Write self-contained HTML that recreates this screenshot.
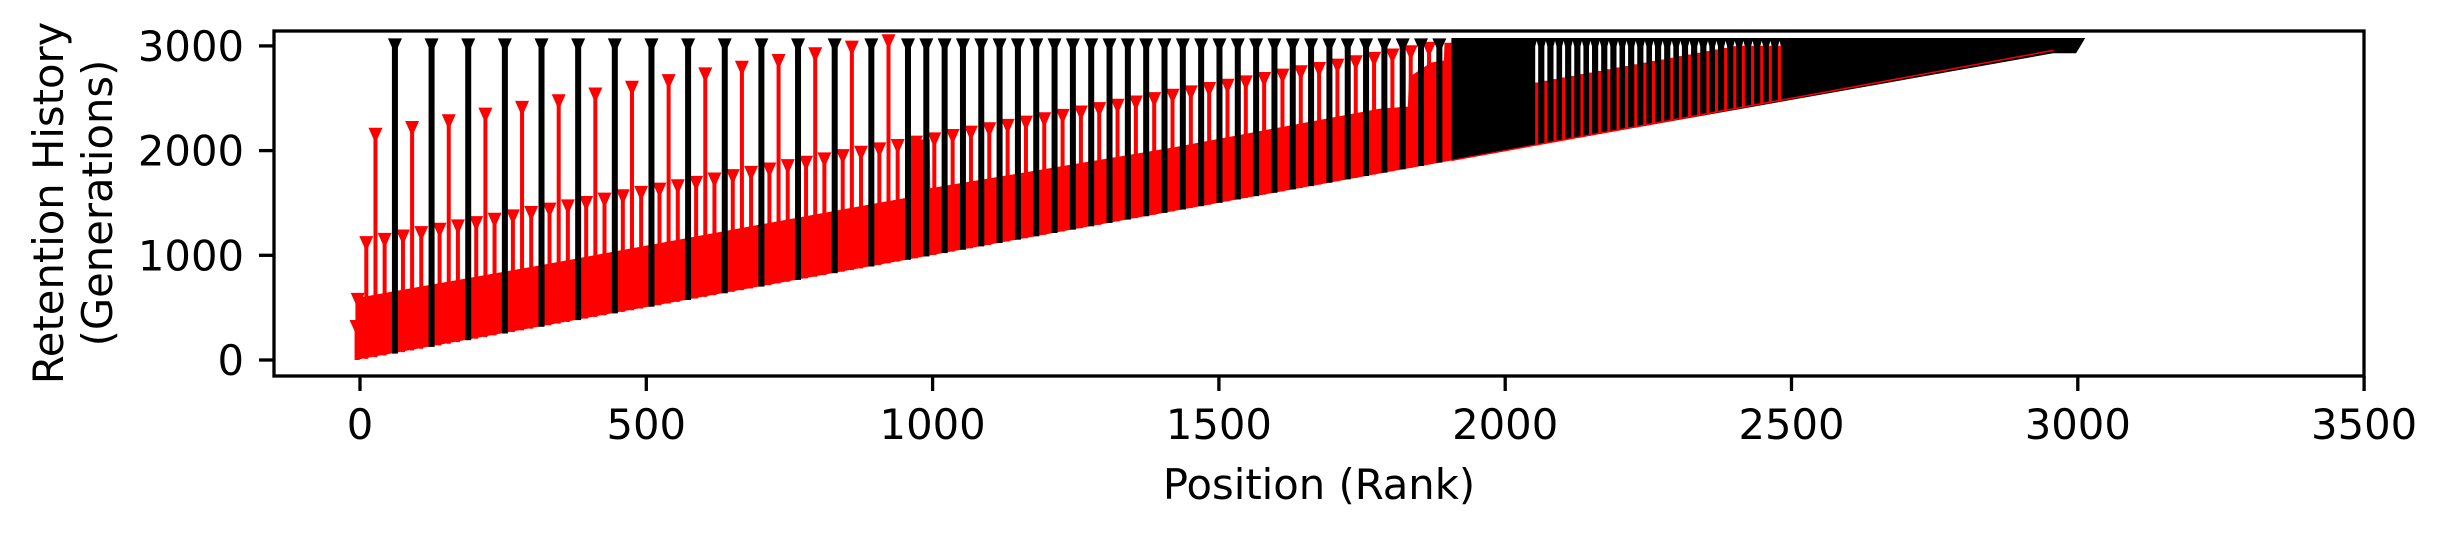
<!DOCTYPE html>
<html><head><meta charset="utf-8"><style>
html,body{margin:0;padding:0;background:#fff;}
svg{display:block;font-family:"DejaVu Sans","Liberation Sans",sans-serif;}
</style></head><body>
<svg id="chart" width="2448" height="536" viewBox="0 0 2448 536" xmlns="http://www.w3.org/2000/svg">
<g id="plot"></g>
<g id="axes"></g>
<text x="1319" y="499" font-size="41.7" text-anchor="middle">Position (Rank)</text>
<text transform="translate(63,203) rotate(-90)" font-size="41.7" text-anchor="middle">Retention History</text>
<text transform="translate(112,203) rotate(-90)" font-size="41.7" text-anchor="middle">(Generations)</text>
</svg>
<script>
const xTicks = [0,500,1000,1500,2000,2500,3000,3500];
const yTicks = [0,1000,2000,3000];
const blackX = [61,125,189,253,317,381,445,509,573,637,701,765,829,893,957,989,1021,1053,1085,1117,1149,1181,1213,1245,1277,1309,1341,1373,1405,1437,1469,1501,1533,1565,1597,1629,1661,1693,1725,1757,1789,1821,1853,1885];
const blackTop = [3000,3000,3000,3000,3000,3000,3000,3000,3000,3000,3000,3000,3000,3000,3000,3000,3000,3000,3000,3000,3000,3000,3000,3000,3000,3000,3000,3000,3000,3000,3000,3000,3000,3000,3000,3000,3000,3000,3000,3000,3000,3000,3000,3000];
const tallRedX = [27,91,155,219,283,347,411,475,539,603,667,731,795,859,923];
const tallRedTop = [2147,2211,2275,2339,2403,2467,2531,2595,2659,2723,2787,2851,2915,2979,3040];
const midRedX = [11,43,75,107,139,171,203,235,267,299,331,363,395,427,459,491,523,555,587,619,651,683,715,747,779,811,843,875,907,939,971,1003,1035,1067,1099,1131,1163,1195,1227,1259,1291,1323,1355,1387,1419,1451,1483,1515,1547,1579,1611,1643,1675,1707,1739,1771,1803,1835,1867];
const midRedTop = [1111,1143,1175,1207,1239,1271,1303,1335,1367,1399,1431,1463,1495,1527,1559,1591,1623,1655,1687,1719,1751,1783,1815,1847,1879,1911,1943,1975,2007,2039,2071,2103,2135,2167,2199,2231,2263,2295,2327,2359,2391,2423,2455,2487,2519,2551,2583,2615,2647,2679,2711,2743,2775,2807,2839,2871,2903,2935,2967];
const startRedX = [-4,-6];
const startRedTop = [570,310];
const bandX = [-8,300,740,955,956,995,996,1420,1780,1830,1832,1870,1893,1894,1906];
const bandTop = [590,890,1335,1550,2100,2110,1640,2030,2400,2420,2700,2840,2860,3030,3030];
const blackBandX = [1906,2957,2997,3013];
const blackBandTop = [3075];
const blackBandFloor = [2930];
const whiteX = [2055,2071,2087,2102,2118,2134,2149,2165,2181,2197,2212,2228,2244,2259,2275,2291,2306,2322,2338,2354,2369,2385,2401,2416,2432,2448,2463,2479];
const whiteRedTop = [2650,2666,2682,2697,2713,2729,2744,2760,2776,2792,2807,2823,2839,2854,2870,2886,2901,2917,2933,2949,2964,2980,2996,3000,3000,3000,3000,3000];

const X0=360, XS=0.5726, Y0=360, YS=0.1047;
function px(v){return X0+v*XS;}
function py(v){return Y0-v*YS;}
const NS="http://www.w3.org/2000/svg";
const plot=document.getElementById('plot');
const axes=document.getElementById('axes');
function mk(tag,attrs,parent){const e=document.createElementNS(NS,tag);for(const k in attrs)e.setAttribute(k,attrs[k]);parent.appendChild(e);return e;}
function tri(x,y,color,parent){
  const X=px(x),Y=py(y);
  const e=mk('polygon',{points:(X-7)+','+(Y-7.5)+' '+(X+7)+','+(Y-7.5)+' '+X+','+(Y+8),fill:color},parent);
  
  
}
function stem(x,top,color,w,name,marker){
  const e=mk('rect',{x:px(x)-w/2,y:py(top),width:w,height:Math.max(0,py(Math.max(x,0))-py(top)),fill:color},plot);
  
  
  if(marker) tri(x,top,color,plot);
}
// red fill band
let pts=[];
for(let i=0;i<bandX.length;i++) pts.push(px(bandX[i])+','+py(bandTop[i]));
pts.push(px(bandX[bandX.length-1])+','+py(bandX[bandX.length-1]));
pts.push(px(bandX[0])+','+py(0));
const band=mk('polygon',{points:pts.join(' '),fill:'#ff0000'},plot);


for(let i=0;i<startRedX.length;i++) stem(startRedX[i],startRedTop[i],'#ff0000',4,'start-red-stem',true);
for(let i=0;i<midRedX.length;i++) stem(midRedX[i],midRedTop[i],'#ff0000',4,'mid-red-stem',true);
for(let i=0;i<tallRedX.length;i++) stem(tallRedX[i],tallRedTop[i],'#ff0000',4,'tall-red-stem',true);
for(let i=0;i<blackX.length;i++) stem(blackX[i],blackTop[i],'#000000',6,'black-stem',true);
// black band
const bb=[px(blackBandX[0])+','+py(blackBandTop[0]), px(blackBandX[3])+','+py(blackBandTop[0]), px(blackBandX[2])+','+py(blackBandFloor[0]), px(blackBandX[1])+','+py(blackBandFloor[0]), px(blackBandX[0])+','+py(blackBandX[0])];
const bbe=mk('polygon',{points:bb.join(' '),fill:'#000'},plot);


const dl=mk('line',{x1:px(blackBandX[0]),y1:py(blackBandX[0]),x2:px(blackBandX[1]),y2:py(blackBandX[1]),stroke:'#ff0000','stroke-width':1.5},plot);


for(let i=0;i<whiteX.length;i++){
  const X=px(whiteX[i]);
  const w=mk('polygon',{points:(X-1.5)+','+py(2995)+' '+X+','+(py(3000)-5)+' '+(X+1.5)+','+py(2995)+' '+(X+1.5)+','+py(whiteRedTop[i])+' '+(X-1.5)+','+py(whiteRedTop[i]),fill:'#ffffff'},plot);
  
  
  stem(whiteX[i],whiteRedTop[i],'#ff0000',3,'white-red-stem',false);
}
// axes frame
const fr=mk('rect',{x:274,y:31,width:2090,height:345,fill:'none',stroke:'#000','stroke-width':3.3},axes);


for(const t of xTicks){
  const l=mk('line',{x1:px(t),x2:px(t),y1:376,y2:391,stroke:'#000','stroke-width':3.3},axes);
  
  
  const tx=mk('text',{x:px(t),y:439,'font-size':41.7,'text-anchor':'middle'},axes);
  tx.textContent=t;
  
  
}
for(const t of yTicks){
  const l=mk('line',{x1:259,x2:274,y1:py(t),y2:py(t),stroke:'#000','stroke-width':3.3},axes);
  
  
  const tx=mk('text',{x:244,y:py(t)+15,'font-size':41.7,'text-anchor':'end'},axes);
  tx.textContent=t;
  
  
}
</script>
</body></html>
